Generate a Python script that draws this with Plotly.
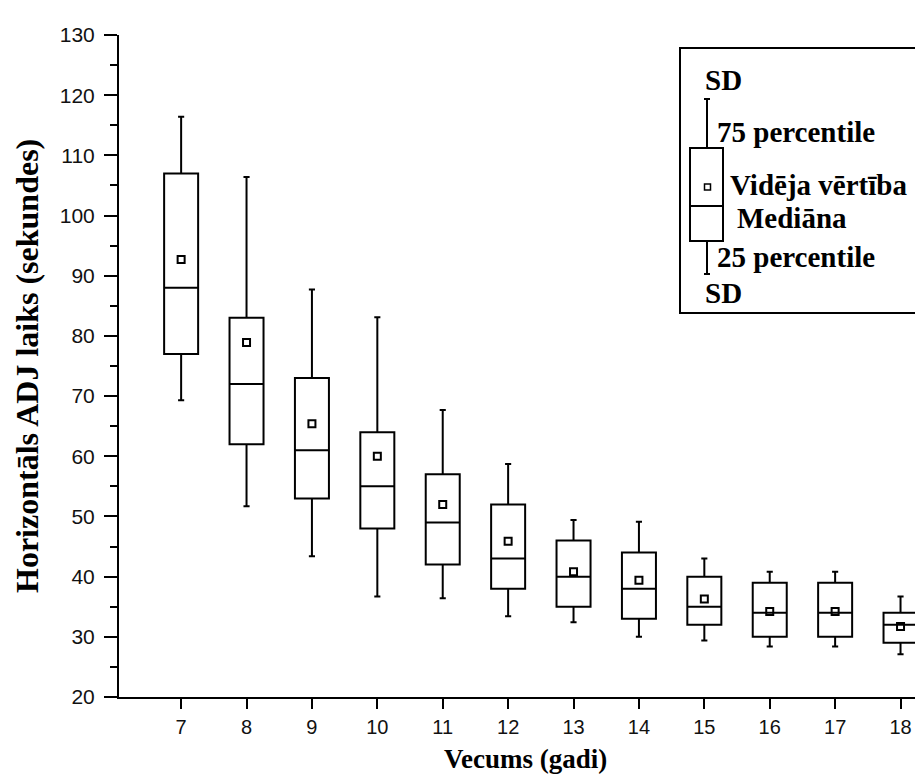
import plotly.graph_objects as go

# ---- data ----
ages = [7, 8, 9, 10, 11, 12, 13, 14, 15, 16, 17, 18]
sd_upper = [116.4, 106.4, 87.7, 83.1, 67.7, 58.7, 49.4, 49.1, 43.0, 40.8, 40.8, 36.7]
q3 = [107.0, 83.0, 73.0, 64.0, 57.0, 52.0, 46.0, 44.0, 40.0, 39.0, 39.0, 34.0]
means = [92.7, 78.9, 65.4, 60.0, 52.0, 45.9, 40.8, 39.4, 36.3, 34.2, 34.2, 31.7]
medians = [88.0, 72.0, 61.0, 55.0, 49.0, 43.0, 40.0, 38.0, 35.0, 34.0, 34.0, 32.0]
q1 = [77.0, 62.0, 53.0, 48.0, 42.0, 38.0, 35.0, 33.0, 32.0, 30.0, 30.0, 29.0]
sd_lower = [69.3, 51.7, 43.4, 36.7, 36.4, 33.4, 32.4, 30.0, 29.4, 28.4, 28.4, 27.1]
y_ticks = [20, 30, 40, 50, 60, 70, 80, 90, 100, 110, 120, 130]

legend_labels = ["SD", "75 percentile", "Vidēja vērtība", "Mediāna", "25 percentile", "SD"]

W, H = 923, 776
L, R, T, B = 111, 920, 27, 689


def px(x):
    return (x - L) / (R - L)


def py(y):
    return (B - y) / (B - T)


fig = go.Figure()

fig.add_trace(go.Box(
    x=ages, q1=q1, median=medians, q3=q3,
    lowerfence=sd_lower, upperfence=sd_upper,
    width=0.52, whiskerwidth=0.18,
    fillcolor="white", line=dict(color="black", width=2),
    boxpoints=False, showlegend=False, hoverinfo="skip",
))

fig.add_trace(go.Scatter(
    x=ages, y=means, mode="markers",
    marker=dict(symbol="square-open", size=7, color="black", line=dict(width=2, color="black")),
    showlegend=False, hoverinfo="skip",
))

serif = "Liberation Serif, Times New Roman, serif"
shapes = []
annotations = []

# legend frame
shapes.append(dict(type="rect", xref="paper", yref="paper",
                   x0=px(672), x1=px(910), y0=py(305), y1=py(40),
                   line=dict(color="black", width=2), fillcolor="white", layer="above"))
# legend schematic box
shapes.append(dict(type="rect", xref="paper", yref="paper",
                   x0=px(682), x1=px(715), y0=py(233), y1=py(140),
                   line=dict(color="black", width=2), layer="above"))
shapes.append(dict(type="line", xref="paper", yref="paper",
                   x0=px(682), x1=px(715), y0=py(198), y1=py(198),
                   line=dict(color="black", width=2), layer="above"))
for (ya, yb) in [(91, 140), (233, 266)]:
    shapes.append(dict(type="line", xref="paper", yref="paper",
                       x0=px(699), x1=px(699), y0=py(ya), y1=py(yb),
                       line=dict(color="black", width=2), layer="above"))
for yc in [91, 266]:
    shapes.append(dict(type="line", xref="paper", yref="paper",
                       x0=px(696), x1=px(702), y0=py(yc), y1=py(yc),
                       line=dict(color="black", width=2), layer="above"))
shapes.append(dict(type="rect", xref="paper", yref="paper",
                   x0=px(696.5), x1=px(702.5), y0=py(182), y1=py(176),
                   line=dict(color="black", width=1.5), layer="above"))

legend_pos = [(695, 72), (707, 124), (720, 177), (727, 210), (707, 249), (695, 285)]
for text, (lx, ly) in zip(legend_labels, legend_pos):
    annotations.append(dict(xref="paper", yref="paper", x=px(lx), y=py(ly),
                            xanchor="left", yanchor="middle", showarrow=False,
                            text="<b>" + text + "</b>",
                            font=dict(family=serif, size=29, color="black")))

# axis titles
annotations.append(dict(xref="paper", yref="paper", x=px(517), y=py(751),
                        xanchor="center", yanchor="middle", showarrow=False,
                        text="<b>Vecums (gadi)</b>",
                        font=dict(family=serif, size=27, color="black")))
annotations.append(dict(xref="paper", yref="paper", x=px(19), y=py(358),
                        xanchor="center", yanchor="middle", showarrow=False, textangle=-90,
                        text="<b>Horizontāls ADJ laiks (sekundes)</b>",
                        font=dict(family=serif, size=32, color="black")))

fig.update_layout(
    width=W, height=H,
    margin=dict(l=L, r=W - R, t=T, b=H - B),
    paper_bgcolor="white", plot_bgcolor="white",
    shapes=shapes, annotations=annotations,
    xaxis=dict(range=[6.05, 18.42], tickmode="array", tickvals=ages,
               ticktext=[str(a) for a in ages],
               showgrid=False, zeroline=False, showline=True, linecolor="black", linewidth=2,
               ticks="outside", ticklen=10, tickwidth=2, tickcolor="black",
               ticklabelstandoff=1,
               tickfont=dict(family="Liberation Sans Narrow, Liberation Sans, Arial", size=20, color="#111")),
    yaxis=dict(range=[20, 130], tickmode="array", tickvals=y_ticks,
               showgrid=False, zeroline=False, showline=True, linecolor="black", linewidth=2,
               ticks="outside", ticklen=13, tickwidth=2, tickcolor="black",
               minor=dict(dtick=5, tick0=0, ticks="outside", ticklen=7, tickwidth=2, tickcolor="black"),
               ticklabelstandoff=5,
               tickfont=dict(family="Liberation Sans, Arial", size=21, color="#111")),
)

fig.write_html("out.html")
